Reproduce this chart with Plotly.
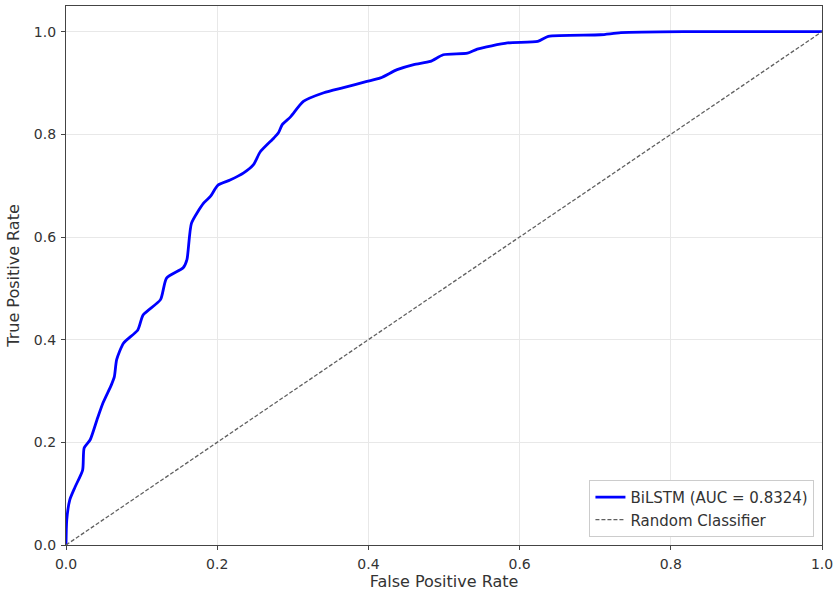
import plotly.graph_objects as go

fpr = [0.0, 0.001, 0.005, 0.012, 0.022, 0.024, 0.032, 0.041, 0.049, 0.060, 0.064, 0.067,
       0.076, 0.095, 0.102, 0.125, 0.133, 0.155, 0.160, 0.166, 0.182, 0.191, 0.201, 0.217,
       0.235, 0.248, 0.257, 0.275, 0.281, 0.286, 0.297, 0.314, 0.341, 0.367, 0.398, 0.416,
       0.438, 0.460, 0.482, 0.499, 0.531, 0.544, 0.584, 0.624, 0.638, 0.707, 0.734, 0.817, 1.0]
tpr = [0.0, 0.049, 0.088, 0.113, 0.146, 0.189, 0.205, 0.244, 0.277, 0.312, 0.328, 0.361,
       0.393, 0.419, 0.448, 0.478, 0.520, 0.540, 0.556, 0.627, 0.666, 0.679, 0.701, 0.711,
       0.725, 0.741, 0.766, 0.793, 0.803, 0.819, 0.834, 0.864, 0.881, 0.891, 0.903, 0.910,
       0.926, 0.936, 0.942, 0.955, 0.958, 0.966, 0.978, 0.981, 0.991, 0.994, 0.998, 1.0, 1.0]
rand_x = [0.0, 1.0]
rand_y = [0.0, 1.0]
ticks = [0.0, 0.2, 0.4, 0.6, 0.8, 1.0]
tick_text = ["0.0", "0.2", "0.4", "0.6", "0.8", "1.0"]

fig = go.Figure()
fig.add_trace(go.Scatter(x=fpr, y=tpr, mode="lines", name="BiLSTM (AUC = 0.8324)",
                         line=dict(color="#0000ff", width=2.8, shape="spline", smoothing=0.6)))
fig.add_trace(go.Scatter(x=rand_x, y=rand_y, mode="lines", name="Random Classifier",
                         line=dict(color="#606060", width=1.3, dash="4px,2px")))

axis_common = dict(showgrid=True, gridcolor="#e8e8e8", gridwidth=1, zeroline=False,
                   showline=True, linecolor="#444444", linewidth=1.3, mirror=True,
                   ticks="outside", ticklen=4, tickcolor="#444444", ticklabelstandoff=2,
                   tickvals=ticks, ticktext=tick_text, automargin=False,
                   tickfont=dict(family="DejaVu Sans", size=14, color="#333333"))

fig.update_xaxes(range=[0, 1.0], title=dict(text="False Positive Rate", standoff=4,
                 font=dict(family="DejaVu Sans", size=16, color="#333333")), **axis_common)
fig.update_yaxes(range=[0, 1.05], title=dict(text="True Positive Rate", standoff=10,
                 font=dict(family="DejaVu Sans", size=16, color="#333333")), **axis_common)

fig.update_layout(
    width=835, height=595,
    margin=dict(l=66, r=13, t=6, b=50),
    plot_bgcolor="white", paper_bgcolor="white",
    legend=dict(x=0.99, y=0.015, xanchor="right", yanchor="bottom",
                bgcolor="white", bordercolor="#cccccc", borderwidth=1,
                font=dict(family="DejaVu Sans", size=15, color="#333333")),
    showlegend=True,
)

fig.write_html("out.html", config={"displayModeBar": False},
               post_script="document.body.style.margin='0';")
